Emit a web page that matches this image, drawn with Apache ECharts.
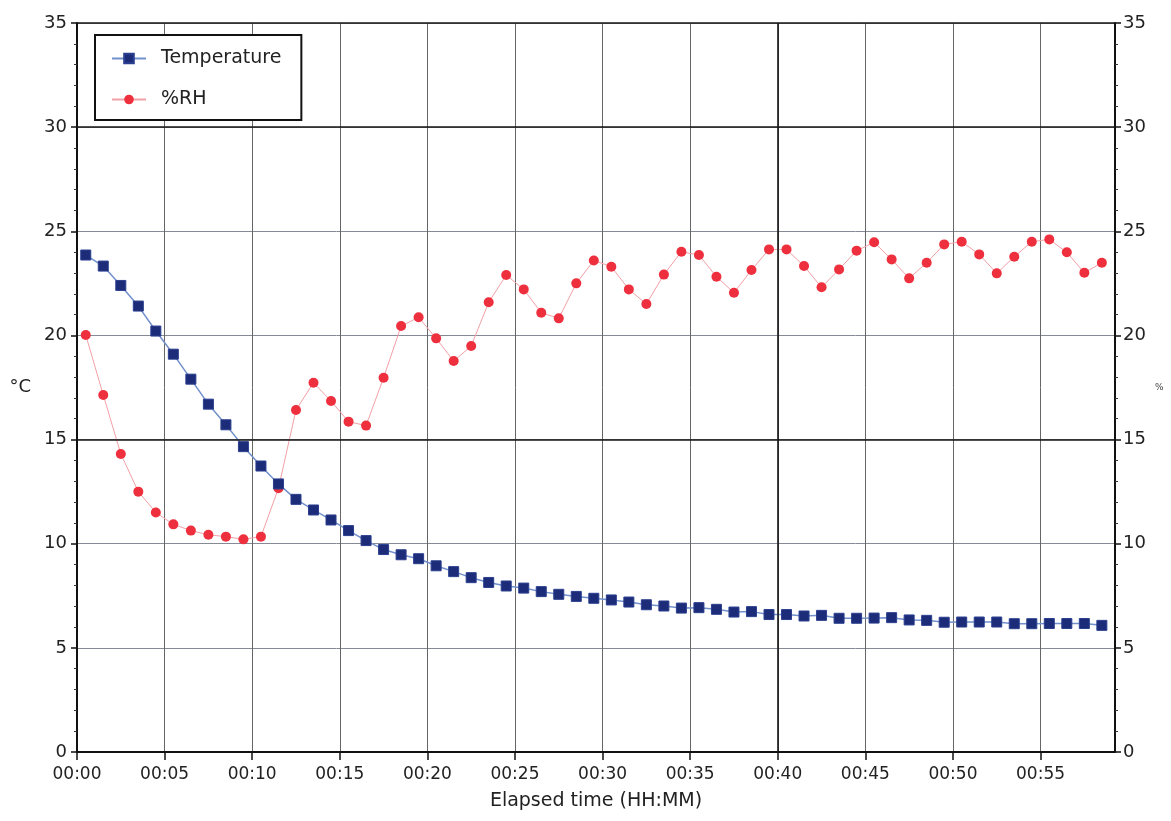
<!DOCTYPE html>
<html>
<head>
<meta charset="utf-8">
<script src="https://cdn.jsdelivr.net/npm/echarts@6/dist/echarts.min.js"></script>
<style>html,body{margin:0;padding:0;background:#fff;}#c{width:1171px;height:821px;}</style>
</head>
<body>
<div id="c"></div>
<script>
// Elapsed time of each sample, minutes
const times = [0.5,1.5,2.5,3.5,4.5,5.5,6.5,7.5,8.5,9.5,10.5,11.5,12.5,13.5,14.5,15.5,16.5,17.5,18.5,19.5,
  20.5,21.5,22.5,23.5,24.5,25.5,26.5,27.5,28.5,29.5,30.5,31.5,32.5,33.5,34.5,35.5,36.5,37.5,38.5,39.5,
  40.5,41.5,42.5,43.5,44.5,45.5,46.5,47.5,48.5,49.5,50.5,51.5,52.5,53.5,54.5,55.5,56.5,57.5,58.5];
const temperature = [23.86,23.33,22.4,21.41,20.21,19.1,17.9,16.7,15.71,14.66,13.73,12.87,12.13,11.62,11.14,10.63,10.15,9.72,9.47,9.28,
  8.94,8.66,8.37,8.14,7.97,7.87,7.7,7.57,7.47,7.38,7.3,7.2,7.07,7.01,6.91,6.93,6.85,6.72,6.74,6.6,
  6.6,6.53,6.56,6.42,6.42,6.43,6.45,6.34,6.32,6.23,6.24,6.24,6.24,6.16,6.16,6.17,6.17,6.17,6.08];
const rh = [20.02,17.14,14.31,12.5,11.5,10.93,10.63,10.43,10.34,10.21,10.34,12.66,16.42,17.73,16.85,15.86,15.67,17.97,20.45,20.87,
  19.86,18.77,19.49,21.59,22.9,22.21,21.09,20.82,22.5,23.6,23.3,22.21,21.51,22.92,24.02,23.86,22.82,22.05,23.14,24.13,
  24.13,23.33,22.31,23.17,24.07,24.47,23.65,22.74,23.49,24.37,24.5,23.89,22.98,23.78,24.5,24.61,23.99,23.01,23.49];
const yTicks = [0,5,10,15,20,25,30,35];
const xTicks = [0,5,10,15,20,25,30,35,40,45,50,55];
const xMax = 59.25;

const FONT = 'DejaVu Sans';
const pair = (arr) => arr.map((v, i) => [times[i], v]);
const pad = (n) => (n < 10 ? '0' : '') + n;

const chart = echarts.init(document.getElementById('c'), null, {renderer: 'canvas'});
chart.setOption({
  animation: false,
  backgroundColor: '#fff',
  grid: {left: 77, right: 56, top: 23, bottom: 69, containLabel: false},
  legend: {
    left: 95, top: 35, orient: 'vertical',
    backgroundColor: '#fff',
    borderColor: '#111', borderWidth: 2,
    padding: [14, 20, 11, 16],
    itemGap: 22, itemWidth: 34, itemHeight: 12,
    textStyle: {fontFamily: FONT, fontSize: 19, color: '#222', padding: [0, 0, 0, 10]},
    data: [{name: 'Temperature'}, {name: '%RH'}]
  },
  xAxis: {
    type: 'value', min: 0, max: xMax, interval: 5,
    name: 'Elapsed time (HH:MM)', nameLocation: 'middle', nameGap: 40,
    nameTextStyle: {fontFamily: FONT, fontSize: 19, color: '#222'},
    axisLine: {lineStyle: {color: '#111', width: 2}},
    axisTick: {length: 8, customValues: xTicks, lineStyle: {color: '#111', width: 1.5}},
    axisLabel: {
      fontFamily: FONT, fontSize: 17, color: '#222', margin: 14,
      customValues: xTicks,
      formatter: (v) => '00:' + pad(Math.round(v))
    },
    splitLine: {show: true, lineStyle: {color: '#666', width: 1}}
  },
  yAxis: [
    {
      type: 'value', min: 0, max: 35, interval: 5, position: 'left',
      name: '°C', nameLocation: 'middle', nameGap: 46, nameRotate: 0,
      nameTextStyle: {fontFamily: FONT, fontSize: 18, color: '#222'},
      axisLine: {show: true, lineStyle: {color: '#111', width: 2}},
      axisTick: {show: true, length: 6, lineStyle: {color: '#111', width: 1.5}},
      minorTick: {show: true, splitNumber: 5, length: 3, lineStyle: {color: '#333'}},
      axisLabel: {fontFamily: FONT, fontSize: 18, color: '#222', margin: 10,
        formatter: (v) => (yTicks.indexOf(v) >= 0 ? String(v) : '')},
      splitLine: {show: true, lineStyle: {color: '#858a96', width: 1}}
    },
    {
      type: 'value', min: 0, max: 35, interval: 5, position: 'right',
      name: '%', nameLocation: 'middle', nameGap: 40, nameRotate: 0,
      nameTextStyle: {fontFamily: FONT, fontSize: 9, color: '#444'},
      axisLine: {show: true, lineStyle: {color: '#111', width: 2}},
      axisTick: {show: true, length: 6, lineStyle: {color: '#111', width: 1.5}},
      minorTick: {show: true, splitNumber: 5, length: 3, lineStyle: {color: '#333'}},
      axisLabel: {fontFamily: FONT, fontSize: 18, color: '#222', margin: 8,
        formatter: (v) => (yTicks.indexOf(v) >= 0 ? String(v) : '')},
      splitLine: {show: false}
    }
  ],
  series: [
    {
      name: 'Temperature', type: 'line', yAxisIndex: 0, z: 4,
      data: pair(temperature),
      symbol: 'rect', symbolSize: 10,
      itemStyle: {color: '#1c2c78', borderColor: '#2a3f8f', borderWidth: 1},
      lineStyle: {color: '#7290cc', width: 1.5},
      markLine: {
        silent: true, symbol: 'none', label: {show: false},
        lineStyle: {color: '#161616', width: 1.6, type: 'solid'},
        data: [{yAxis: 15}, {yAxis: 30}, {yAxis: 35}, {xAxis: 40}]
      }
    },
    {
      name: '%RH', type: 'line', yAxisIndex: 1, z: 3,
      data: pair(rh),
      symbol: 'circle', symbolSize: 10,
      itemStyle: {color: '#ee2f3e'},
      lineStyle: {color: '#f2a0a6', width: 1}
    }
  ]
});
</script>
</body>
</html>
